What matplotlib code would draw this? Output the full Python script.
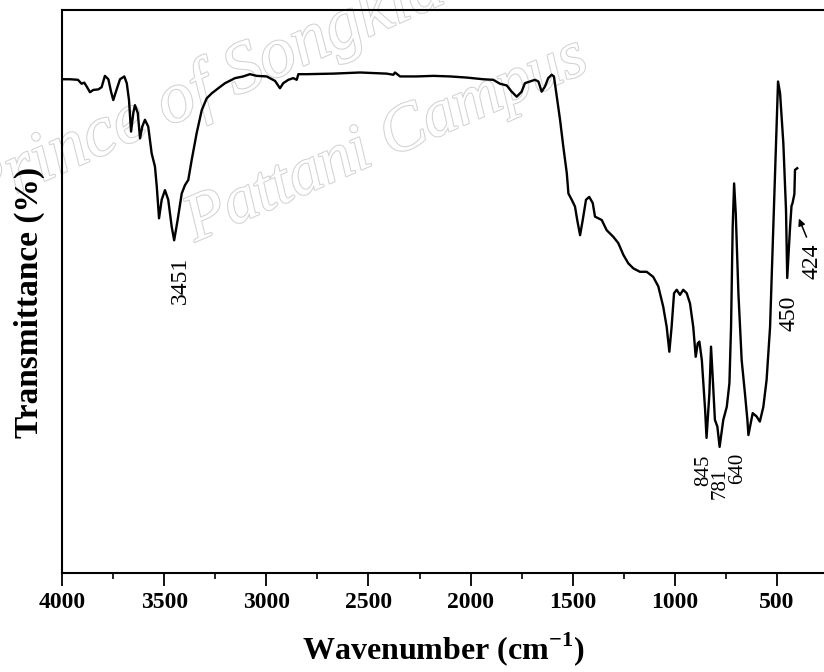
import matplotlib
matplotlib.use("Agg")
import matplotlib.pyplot as plt
import matplotlib.patheffects as pe
import numpy as np
from matplotlib.ticker import MultipleLocator

# FT-IR spectrum: wavenumber (cm-1) and transmittance (%)
wavenumber = [
    4000, 3961, 3922, 3904, 3891, 3879, 3863, 3847, 3822, 3806,
    3790, 3773, 3760, 3749, 3736, 3716, 3695, 3683, 3672, 3662,
    3651, 3643, 3629, 3618, 3607, 3594, 3578, 3561, 3545, 3536,
    3525, 3512, 3496, 3480, 3463, 3451, 3434, 3414, 3398, 3382,
    3365, 3341, 3316, 3292, 3267, 3235, 3202, 3153, 3113, 3080,
    3047, 2998, 2957, 2933, 2917, 2892, 2868, 2851, 2843, 2802,
    2672, 2541, 2411, 2378, 2370, 2345, 2264, 2182, 2101, 2019,
    1938, 1889, 1856, 1823, 1799, 1774, 1750, 1734, 1709, 1685,
    1668, 1652, 1636, 1620, 1603, 1592, 1578, 1562, 1546, 1529,
    1521, 1505, 1489, 1478, 1464, 1451, 1435, 1419, 1402, 1391,
    1375, 1358, 1334, 1301, 1277, 1252, 1228, 1203, 1171, 1138,
    1106, 1081, 1057, 1040, 1027, 1016, 1004, 991, 975, 959,
    942, 926, 910, 898, 888, 880, 868, 852, 845, 831,
    823, 815, 804, 792, 781, 763, 746, 733, 725, 717,
    710, 702, 689, 673, 657, 645, 640, 619, 600, 584,
    567, 551, 534, 518, 505, 495, 485, 469, 456, 450,
    436, 429, 424, 419, 415, 412, 401,
]
transmittance = [
    87.7, 87.7, 87.6, 86.9, 87.1, 86.4, 85.4, 85.8, 85.9, 86.3,
    88.3, 87.7, 85.5, 84.0, 85.5, 87.7, 88.2, 87.0, 84.0, 78.4,
    81.7, 83.1, 81.7, 77.2, 79.3, 80.5, 79.3, 74.5, 72.2, 68.6,
    63.0, 66.3, 68.0, 66.3, 61.5, 59.1, 62.7, 67.4, 68.9, 69.8,
    73.4, 78.1, 82.2, 84.3, 85.2, 86.1, 87.0, 87.9, 88.2, 88.6,
    88.3, 88.2, 87.4, 86.1, 87.0, 87.6, 87.9, 87.6, 88.6, 88.6,
    88.7, 88.9, 88.7, 88.5, 88.9, 88.2, 88.2, 88.3, 88.2, 88.0,
    87.7, 87.6, 86.9, 86.6, 85.5, 84.6, 85.5, 87.0, 87.3, 87.6,
    87.3, 85.5, 86.4, 87.9, 88.5, 88.2, 84.6, 80.5, 75.7, 71.0,
    67.4, 66.3, 65.1, 62.7, 60.0, 62.7, 66.3, 66.8, 65.7, 63.3,
    63.0, 62.7, 60.9, 59.7, 58.6, 56.5, 55.0, 54.1, 53.5, 53.5,
    52.6, 50.9, 47.3, 43.7, 39.3, 43.7, 49.7, 50.3, 49.4, 50.3,
    49.7, 47.9, 43.7, 38.4, 40.8, 41.1, 37.8, 29.0, 24.0, 31.9,
    40.2, 34.9, 27.2, 26.0, 22.4, 27.2, 29.5, 33.7, 43.7, 61.5,
    69.2, 63.9, 49.7, 37.8, 31.9, 27.2, 24.5, 28.4, 27.8, 26.9,
    29.5, 34.3, 43.7, 61.5, 76.3, 87.3, 85.2, 76.3, 64.5, 52.4,
    61.5, 65.2, 65.7, 66.6, 67.3, 71.6, 71.9,
]

# labelled bands
peaks = [3451, 845, 781, 640, 450]
shoulder = 424

SERIF = "Liberation Serif"
plt.rcParams["mathtext.fontset"] = "custom"
plt.rcParams["mathtext.rm"] = SERIF
plt.rcParams["mathtext.bf"] = SERIF + ":bold"

fig = plt.figure(figsize=(8.24, 6.72), dpi=100, facecolor="white")

# watermark behind the plot
stroke = [pe.withStroke(linewidth=1.5, foreground="#d2d2d2")]
fig.text(-25 / 824, 1 - 212 / 672, "Prince of Songkla University",
         rotation=24, rotation_mode="anchor", ha="left", va="baseline",
         fontsize=52, family=SERIF, style="italic", color="white",
         path_effects=stroke, zorder=-1)
fig.text(195 / 824, 1 - 242 / 672, "Pattani Campus",
         rotation=23.5, rotation_mode="anchor", ha="left", va="baseline",
         fontsize=48, family=SERIF, style="italic", color="white",
         path_effects=stroke, zorder=-1)

ax = fig.add_axes([62 / 824, 1 - 573 / 672, 1 - 62 / 824, 563 / 672])
ax.patch.set_alpha(0)

ax.plot(wavenumber, transmittance, color="black", lw=1.7)

ax.set_xlim(4000, 270)
ax.set_ylim(0, 100)
ax.xaxis.set_major_locator(MultipleLocator(500))
ax.xaxis.set_minor_locator(MultipleLocator(250))
ax.tick_params(axis="x", which="major", direction="out", length=9, width=1.3,
               labelsize=17, pad=5)
ax.tick_params(axis="x", which="minor", direction="out", length=4.5, width=1.2)
ax.tick_params(axis="y", left=False, labelleft=False)
for lab in ax.get_xticklabels():
    lab.set_fontfamily(SERIF)
    lab.set_fontweight("bold")

ax.spines["right"].set_visible(False)
for s in ("left", "top", "bottom"):
    ax.spines[s].set_linewidth(1.5)

ax.set_xlabel(r"Wavenumber (cm$^{\mathbf{-1}}$)", fontsize=23, family=SERIF,
              fontweight="bold", labelpad=12)
ax.set_ylabel("Transmittance (%)", fontsize=24, family=SERIF, fontweight="bold")
ax.yaxis.set_label_coords(-0.022, 0.481)

# band labels under each minimum (offsets in pixels)
wn_asc = wavenumber[::-1]
tr_asc = transmittance[::-1]
offsets = {3451: (6, -40), 845: (-3, -32), 781: (1, -36), 640: (-11, -33), 450: (2, -35)}
sizes = {3451: 17, 845: 15, 781: 15, 640: 15, 450: 17}
for p in peaks:
    t = np.interp(p, wn_asc, tr_asc)
    ax.annotate(str(p), xy=(p, t), xytext=offsets[p], textcoords="offset pixels",
                rotation=90, ha="center", va="center", fontsize=sizes[p],
                family=SERIF)

t424 = np.interp(shoulder, wn_asc, tr_asc)
ax.annotate("", xy=(shoulder, t424), xytext=(14, -34), textcoords="offset pixels",
            arrowprops=dict(arrowstyle="-|>", color="black", lw=1.1,
                            mutation_scale=10, shrinkA=0, shrinkB=12))
ax.annotate(str(shoulder), xy=(shoulder, t424), xytext=(19, -58),
            textcoords="offset pixels", rotation=90, ha="center", va="center",
            fontsize=17, family=SERIF)

fig.savefig("out.png", dpi=100, facecolor="white")
